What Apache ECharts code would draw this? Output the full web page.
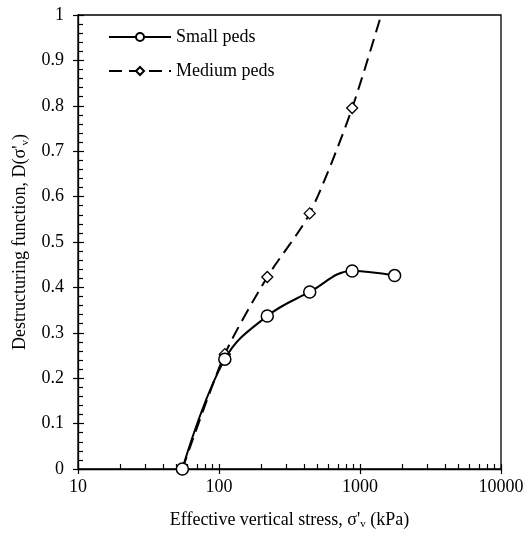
<!DOCTYPE html>
<html>
<head>
<meta charset="utf-8">
<script src="https://cdn.jsdelivr.net/npm/echarts@6/dist/echarts.min.js"></script>
<style>html,body{margin:0;padding:0;background:#fff;}#c{width:532px;height:535px;}</style>
</head>
<body>
<div id="c"></div>
<script>
const stressSmall = [55, 110, 220, 440, 880, 1760];
const dSmall = [0, 0.242, 0.337, 0.390, 0.436, 0.426];
const stressMedium = [55, 110, 220, 440, 880, 1760];
const dMedium = [0, 0.253, 0.423, 0.563, 0.795, 1.10];
const xMajorTicks = [10, 100, 1000, 10000];
const xMinorTicks = [20,30,40,50,60,70,80,90,200,300,400,500,600,700,800,900,2000,3000,4000,5000,6000,7000,8000,9000];
const seriesNames = ['Small peds', 'Medium peds'];

const FONT = "'Liberation Serif', 'Times New Roman', serif";
const FS = 18;
const pair = (xs, ys) => xs.map((x, i) => [x, ys[i]]);

const chart = echarts.init(document.getElementById('c'), null, {renderer: 'canvas'});
chart.setOption({
  animation: false,
  backgroundColor: '#fff',
  textStyle: {fontFamily: FONT, color: '#000'},
  grid: {left: 78, right: 31, top: 15, bottom: 65, show: true, borderColor: '#000', borderWidth: 1.3, backgroundColor: 'transparent'},
  legend: {
    orient: 'vertical', left: 103, top: 23, itemWidth: 62, itemHeight: 10, itemGap: 16,
    textStyle: {fontFamily: FONT, fontSize: FS, color: '#000'},
    data: seriesNames
  },
  xAxis: [{
    type: 'log', logBase: 10, min: 10, max: 10000, position: 'bottom',
    axisLine: {lineStyle: {color: '#000', width: 1.3}},
    axisTick: {inside: true, length: 5, lineStyle: {color: '#000', width: 1.2}, customValues: xMinorTicks.concat(xMajorTicks)},
    axisLabel: {fontFamily: FONT, fontSize: FS, color: '#000', margin: 9, customValues: xMajorTicks,
      formatter: v => String(Math.round(v))},
    splitLine: {show: false},
    name: "Effective vertical stress, σ'{s|v} (kPa)", nameLocation: 'middle', nameGap: 41,
    nameTextStyle: {fontFamily: FONT, fontSize: FS, color: '#000', lineHeight: 20,
      rich: {s: {fontFamily: FONT, fontSize: 11, lineHeight: 11, verticalAlign: 'bottom', color: '#000'}}}
  }, {
    type: 'log', logBase: 10, min: 10, max: 10000, position: 'bottom',
    axisLine: {show: false},
    axisTick: {inside: false, length: 5, lineStyle: {color: '#000', width: 1.2}, customValues: xMajorTicks},
    axisLabel: {show: false},
    splitLine: {show: false}
  }],
  yAxis: [{
    type: 'value', min: 0, max: 1, interval: 0.1, position: 'left',
    axisLine: {show: true, lineStyle: {color: '#000', width: 1.3}},
    axisTick: {show: true, inside: true, length: 6, lineStyle: {color: '#000', width: 1.2}},
    minorTick: {show: true, splitNumber: 5, length: 5, lineStyle: {color: '#000', width: 1.2}},
    axisLabel: {fontFamily: FONT, fontSize: FS, color: '#000', margin: 14},
    splitLine: {show: false},
    name: "Destructuring function, D(σ'{s|v})", nameLocation: 'middle', nameGap: 40,
    nameTextStyle: {fontFamily: FONT, fontSize: FS, color: '#000', lineHeight: 20,
      rich: {s: {fontFamily: FONT, fontSize: 11, lineHeight: 11, verticalAlign: 'bottom', color: '#000'}}}
  }, {
    type: 'value', min: 0, max: 1, interval: 0.1, position: 'left',
    axisLine: {show: false},
    axisTick: {show: true, inside: false, length: 5, lineStyle: {color: '#000', width: 1.2}},
    axisLabel: {show: false},
    splitLine: {show: false}
  }],
  series: [{
    name: seriesNames[0], type: 'line', xAxisIndex: 0, yAxisIndex: 0,
    data: pair(stressSmall, dSmall), smooth: 0.4, clip: true,
    symbol: 'circle', symbolSize: 12,
    lineStyle: {color: '#000', width: 2},
    itemStyle: {color: '#fff', borderColor: '#000', borderWidth: 1.5},
    z: 3
  }, {
    name: seriesNames[1], type: 'line', xAxisIndex: 0, yAxisIndex: 0,
    data: pair(stressMedium, dMedium), smooth: 0.25, clip: true,
    symbol: 'diamond', symbolSize: 11,
    lineStyle: {color: '#000', width: 2, type: [13, 7]},
    itemStyle: {color: '#fff', borderColor: '#000', borderWidth: 1.3},
    z: 2
  }]
});
</script>
</body>
</html>
